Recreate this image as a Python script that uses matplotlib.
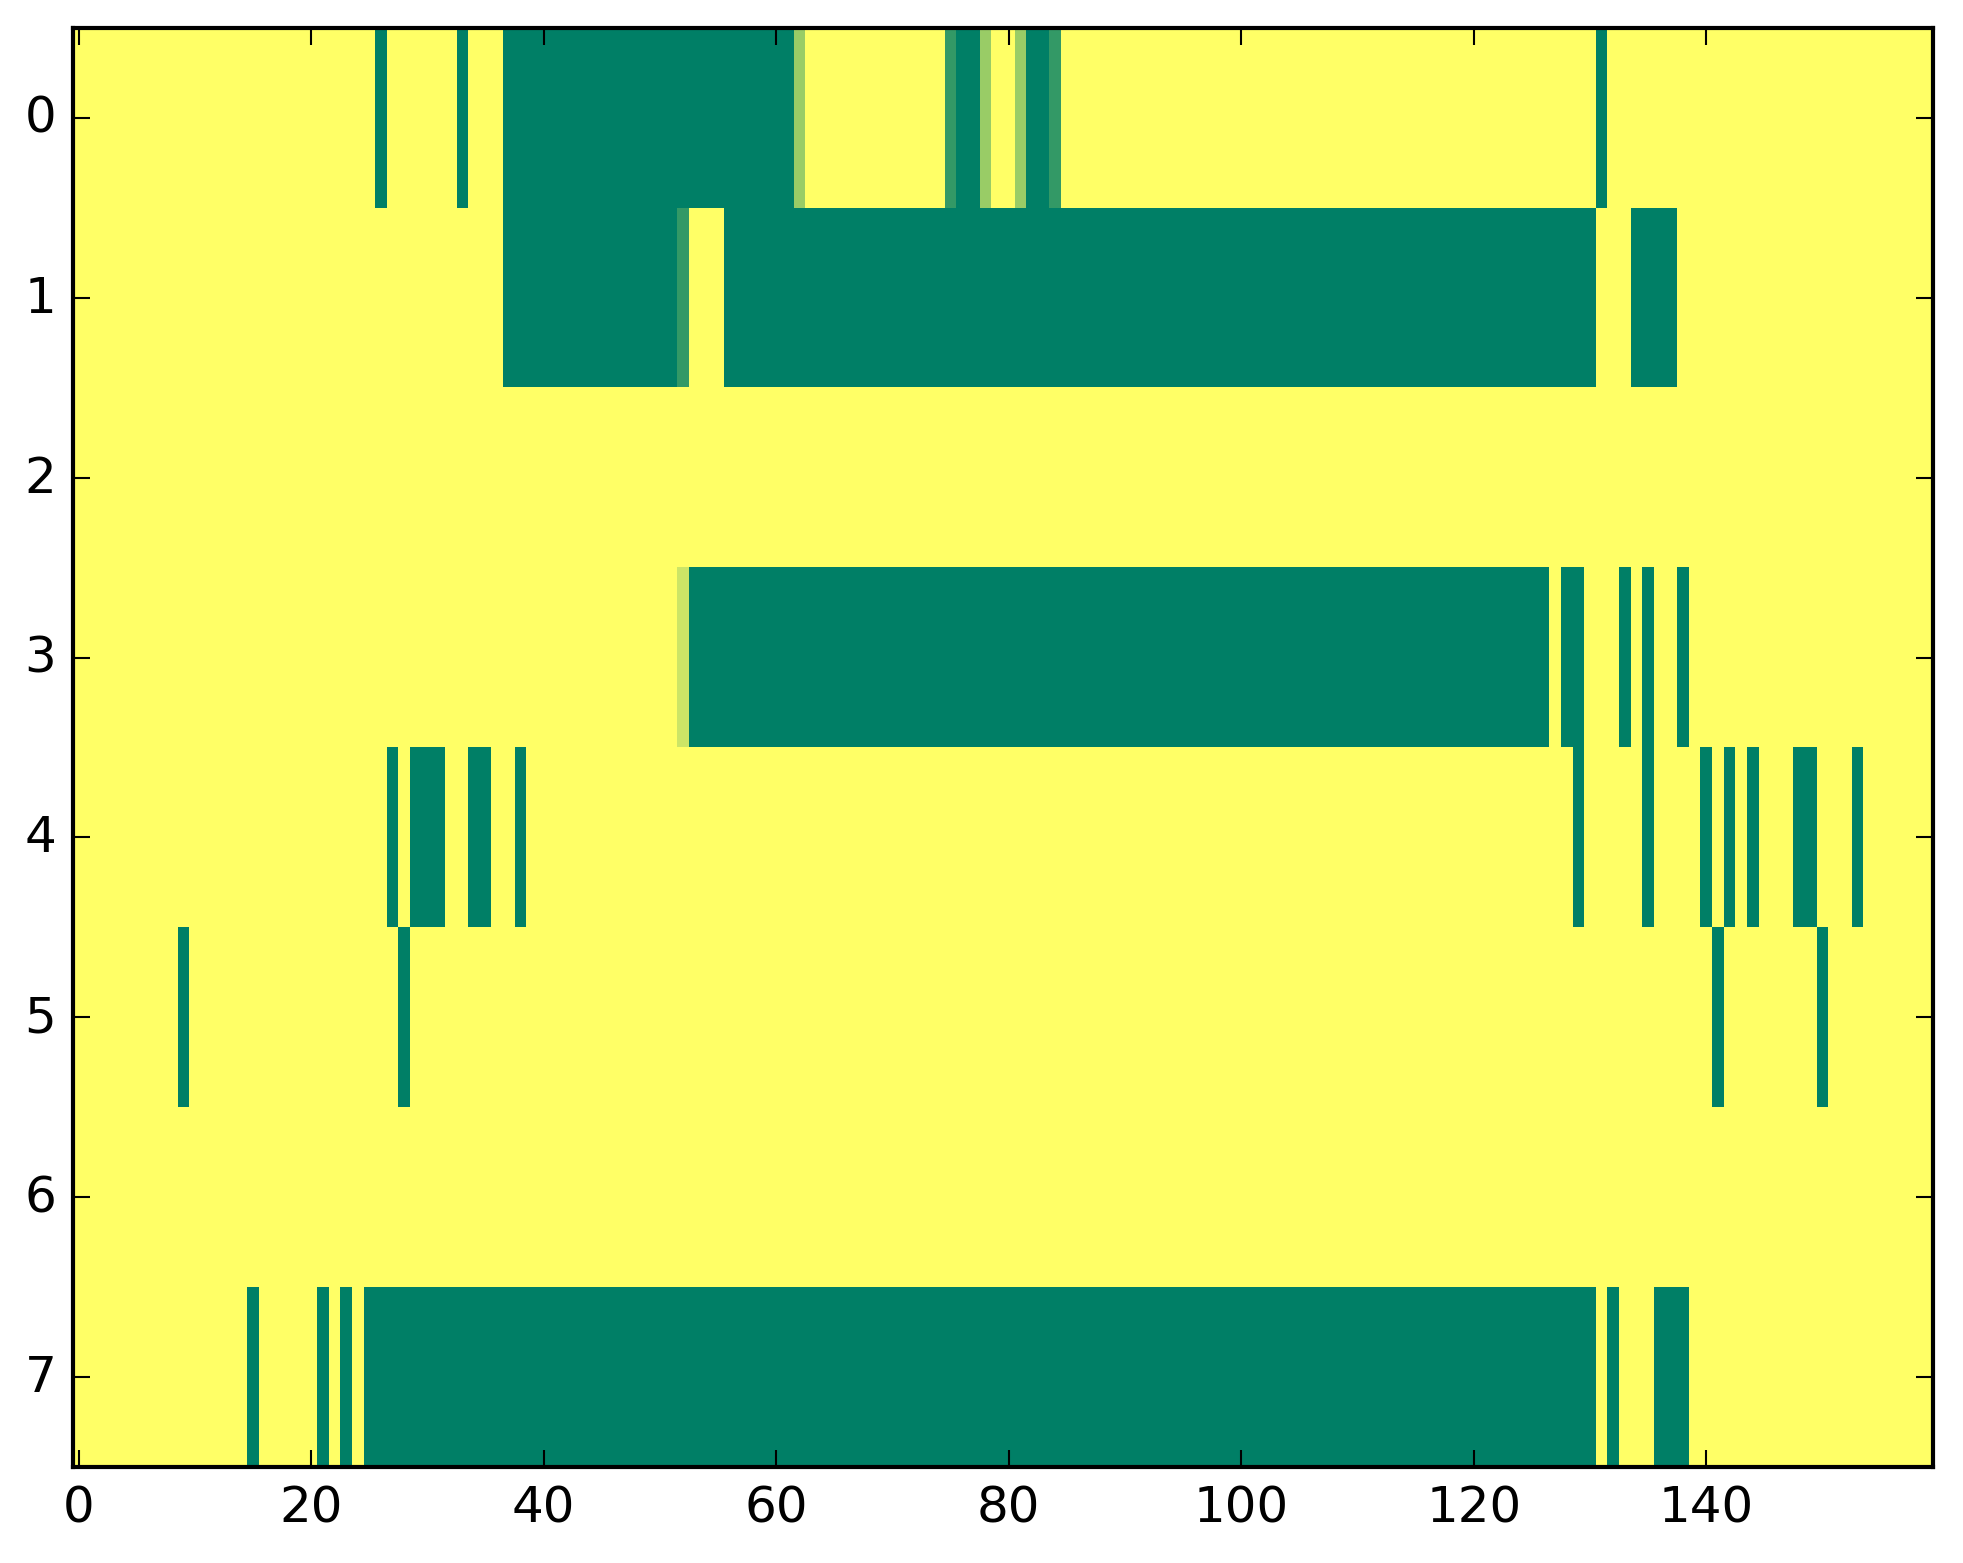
import numpy as np
import matplotlib
matplotlib.use("Agg")
import matplotlib.pyplot as plt

# =======================================
#   DATOS (celdas no amarillas por fila)
#   (col_inicio, col_fin, valor)
# =======================================

n_cols = 160
n_rows = 8

row0 = [(26, 26, 0.0), (33, 33, 0.0), (37, 61, 0.0), (62, 62, 0.6),
        (75, 75, 0.2), (76, 77, 0.0), (78, 78, 0.6), (81, 81, 0.6),
        (82, 83, 0.0), (84, 84, 0.2), (131, 131, 0.0)]
row1 = [(37, 51, 0.0), (52, 52, 0.2), (56, 130, 0.0), (134, 137, 0.0)]
row2 = []
row3 = [(52, 52, 0.8), (53, 126, 0.0), (128, 129, 0.0), (133, 133, 0.0),
        (135, 135, 0.0), (138, 138, 0.0)]
row4 = [(27, 27, 0.0), (29, 31, 0.0), (34, 35, 0.0), (38, 38, 0.0),
        (129, 129, 0.0), (135, 135, 0.0), (140, 140, 0.0), (142, 142, 0.0),
        (144, 144, 0.0), (148, 149, 0.0), (153, 153, 0.0)]
row5 = [(9, 9, 0.0), (28, 28, 0.0), (141, 141, 0.0), (150, 150, 0.0)]
row6 = []
row7 = [(15, 15, 0.0), (21, 21, 0.0), (23, 23, 0.0), (25, 130, 0.0),
        (132, 132, 0.0), (136, 138, 0.0)]

rows = [row0, row1, row2, row3, row4, row5, row6, row7]

x_ticks = [0, 20, 40, 60, 80, 100, 120, 140]
y_ticks = [0, 1, 2, 3, 4, 5, 6, 7]

# =======================================
#   MATRIZ
# =======================================

matriz = np.ones((n_rows, n_cols))
for i, spans in enumerate(rows):
    for a, b, v in spans:
        matriz[i, a:b + 1] = v

# =======================================
#   GRAFICA
# =======================================

plt.style.use("classic")
plt.rcParams["font.family"] = ["DejaVu Sans"]

fig = plt.figure(figsize=(1963 / 300, 1564 / 300), dpi=300, facecolor="white")
ax = fig.add_axes([73 / 1963, 1 - 1468 / 1564, 1860 / 1963, 1439 / 1564])

ax.imshow(matriz, cmap="summer", vmin=0, vmax=1, aspect="auto",
          interpolation="nearest")

ax.set_xticks(x_ticks)
ax.set_yticks(y_ticks)
ax.set_xlim(-0.5, n_cols - 0.5)
ax.set_ylim(n_rows - 0.5, -0.5)
ax.tick_params(labelsize=12)

fig.savefig("out.png", dpi=300, facecolor="white")
plt.close(fig)
